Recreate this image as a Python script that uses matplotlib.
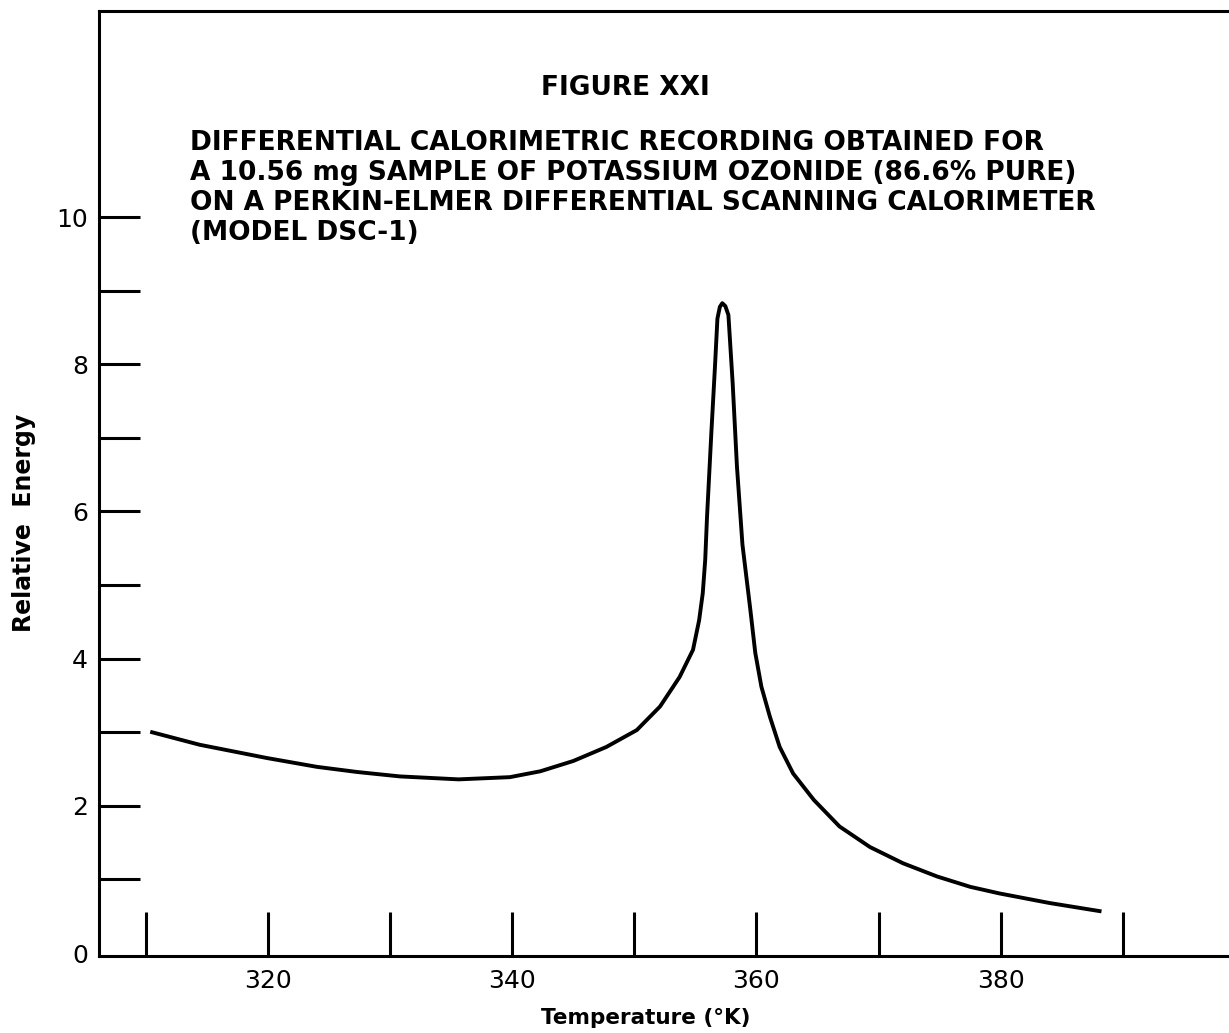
import numpy as np
import matplotlib
matplotlib.use("Agg")
import matplotlib.pyplot as plt  # noqa: E402
from matplotlib.ticker import FixedLocator, NullFormatter  # noqa: E402

# DSC trace: temperature (K) vs relative energy
temp = [310.5, 314.4, 319.9, 324.0, 327.3, 330.8, 335.6, 339.8, 342.3, 345.0,
        347.7, 350.2, 352.1, 353.7, 354.8, 355.3, 355.6, 355.8, 355.95, 356.3,
        356.6, 356.8, 357.0, 357.2, 357.45, 357.7, 358.05, 358.4, 358.85,
        359.5, 359.9, 360.4, 361.1, 361.9, 363.0, 364.7, 366.8, 369.3, 372.0,
        374.8, 377.5, 379.9, 384.0, 388.1]
energy = [3.00, 2.83, 2.65, 2.53, 2.46, 2.40, 2.36, 2.39, 2.47, 2.61,
          2.80, 3.03, 3.35, 3.75, 4.12, 4.52, 4.89, 5.34, 5.93, 7.06,
          7.97, 8.62, 8.78, 8.83, 8.79, 8.67, 7.74, 6.61, 5.55,
          4.66, 4.08, 3.62, 3.21, 2.80, 2.44, 2.08, 1.72, 1.44, 1.22,
          1.04, 0.90, 0.81, 0.68, 0.57]

x_major = [320, 340, 360, 380]
x_minor = [310, 330, 350, 370, 390]
y_major = [0, 2, 4, 6, 8, 10]
y_minor = [1, 3, 5, 7, 9]

title = "FIGURE XXI"
caption = ["DIFFERENTIAL CALORIMETRIC RECORDING OBTAINED FOR",
           "A 10.56 mg SAMPLE OF POTASSIUM OZONIDE (86.6% PURE)",
           "ON A PERKIN-ELMER DIFFERENTIAL SCANNING CALORIMETER",
           "(MODEL DSC-1)"]

W, H = 1229, 1033
fig = plt.figure(figsize=(W / 100, H / 100), dpi=100)
ax = fig.add_axes([99 / W, 77 / H, 1130 / W, 945 / H])

ax.plot(temp, energy, color="black", lw=2.8, solid_joinstyle="round")

ax.set_xlim(306.15, 398.7)
ax.set_ylim(-0.04, 12.8)

ax.spines["right"].set_visible(False)
for s in ["left", "bottom", "top"]:
    ax.spines[s].set_linewidth(2.2)

ax.xaxis.set_major_locator(FixedLocator(x_major))
ax.xaxis.set_minor_locator(FixedLocator(x_minor))
ax.yaxis.set_major_locator(FixedLocator(y_major))
ax.yaxis.set_minor_locator(FixedLocator(y_minor))
ax.xaxis.set_minor_formatter(NullFormatter())
ax.yaxis.set_minor_formatter(NullFormatter())

ax.tick_params(axis="x", which="both", direction="in", length=32, width=2.2,
               pad=9, labelsize=18, top=False)
ax.tick_params(axis="y", which="both", direction="in", length=29.5, width=2.2,
               pad=8, labelsize=18, right=False)
ax.yaxis.get_major_ticks()[0].tick1line.set_visible(False)

fig.text(24 / W, 1 - 523 / H, "Relative  Energy", rotation=90, ha="center",
         va="center", fontsize=17, fontweight="bold")
fig.text(646 / W, 1 - 1018 / H, "Temperature (°K)", ha="center", va="center",
         fontsize=15.5, fontweight="bold")

fig.text(625 / W, 1 - 88 / H, title, ha="center", va="center",
         fontsize=19, fontweight="bold")
for i, line in enumerate(caption):
    fig.text(190 / W, 1 - (143 + 30 * i) / H, line, ha="left", va="center",
             fontsize=19, fontweight="bold")

fig.savefig("out.png", dpi=100)
